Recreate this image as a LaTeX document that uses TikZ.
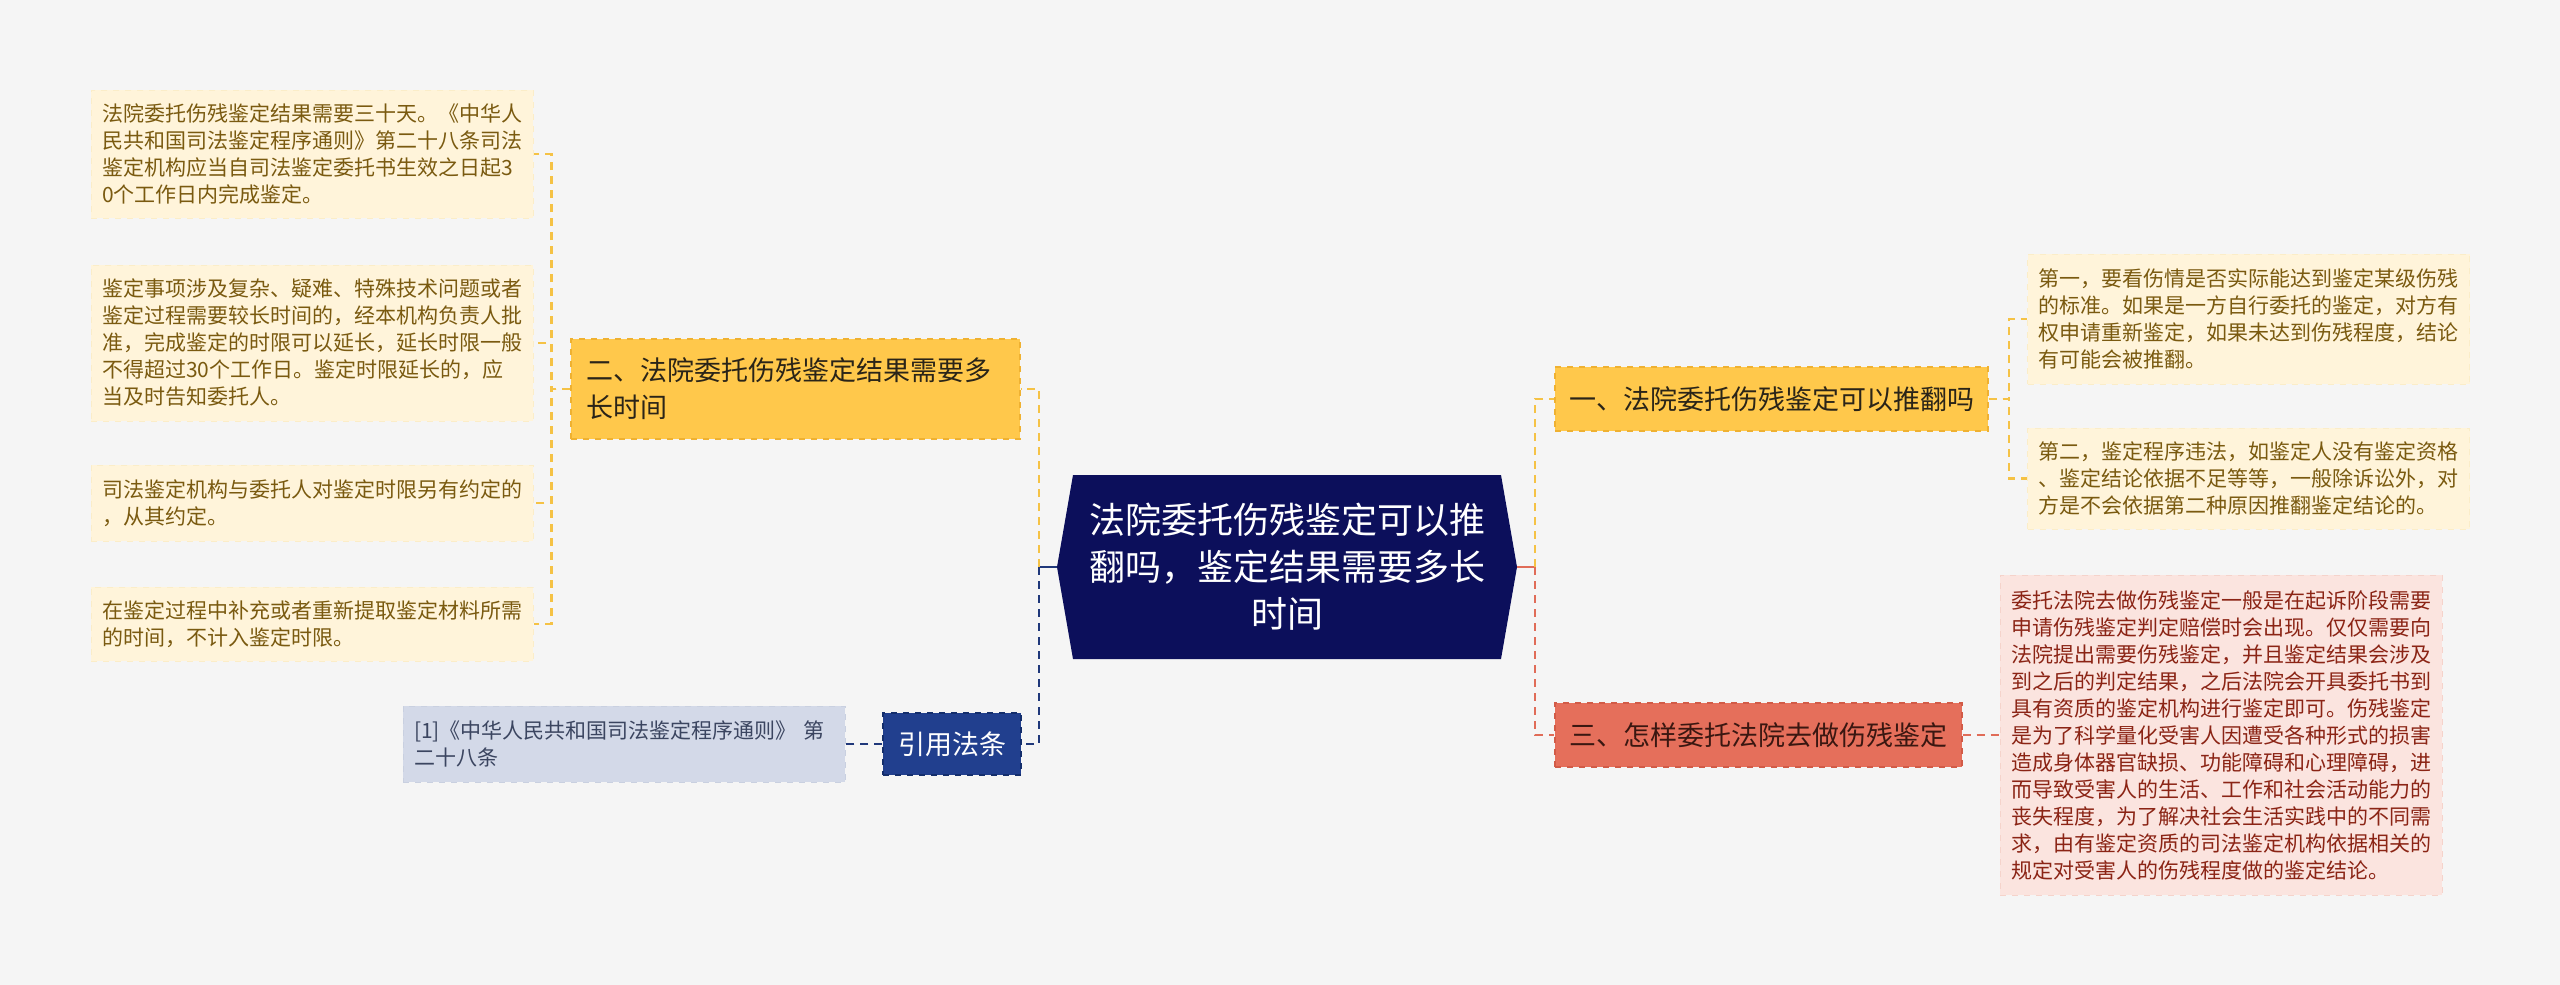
\documentclass[tikz,border=0pt]{standalone}
\usepackage{fontspec}
\setmainfont{Noto Sans CJK SC}
\usepackage{xcolor}
\usepackage{tikz}

\definecolor{bgcol}{HTML}{F5F5F5}
\definecolor{rootcol}{HTML}{0C0F5B}
\definecolor{ybranchfill}{HTML}{FFC84B}
\definecolor{ybranchline}{HTML}{EFB131}
\definecolor{branchtext}{HTML}{2A2418}
\definecolor{yleaffill}{HTML}{FFF4DA}
\definecolor{yleafline}{HTML}{FBEDC8}
\definecolor{yleaftext}{HTML}{7A5A10}
\definecolor{ylinecol}{HTML}{F5C245}
\definecolor{rbranchfill}{HTML}{E56F5B}
\definecolor{rbranchline}{HTML}{D25B47}
\definecolor{rbranchtext}{HTML}{3A1711}
\definecolor{rleaffill}{HTML}{FBE4DF}
\definecolor{rleafline}{HTML}{F5D3CB}
\definecolor{rleaftext}{HTML}{8B2415}
\definecolor{rlinecol}{HTML}{E06C58}
\definecolor{citefill}{HTML}{213F8E}
\definecolor{citeline}{HTML}{142E6C}
\definecolor{reffill}{HTML}{D3D9E8}
\definecolor{refline}{HTML}{C9D0E0}
\definecolor{reftext}{HTML}{3B4560}
\definecolor{nlinecol}{HTML}{20387A}

\begin{document}
\begin{tikzpicture}[x=0.5pt, y=-0.5pt,
    rootbox/.style={fill=bgcol, inner sep=0pt, minimum width=230pt, minimum height=92pt,
        text=white, align=center, font=\fontsize{18pt}{23.5pt}\selectfont,
        path picture={\fill[rootcol] (path picture bounding box.west)
            -- ([xshift=8pt]path picture bounding box.north west)
            -- ([xshift=-8pt]path picture bounding box.north east)
            -- (path picture bounding box.east)
            -- ([xshift=-8pt]path picture bounding box.south east)
            -- ([xshift=8pt]path picture bounding box.south west) -- cycle;}},
    ybranch/.style={fill=ybranchfill, draw=ybranchline, dashed, line width=0.6pt, inner sep=0pt,
        text=branchtext, font=\fontsize{13.5pt}{18.5pt}\selectfont},
    rbranch/.style={fill=rbranchfill, draw=rbranchline, dashed, line width=0.6pt, inner sep=0pt,
        text=rbranchtext, font=\fontsize{13.5pt}{18.5pt}\selectfont},
    citebox/.style={fill=citefill, draw=citeline, dashed, line width=0.6pt, inner sep=0pt,
        text=white, font=\fontsize{13.5pt}{18.5pt}\selectfont},
    leafbox/.style={dashed, line width=0.5pt, inner xsep=5.5pt, inner ysep=0pt, text width=210pt,
        align=left, font=\fontsize{10.5pt}{13.5pt}\selectfont},
    yleaf/.style={leafbox, fill=yleaffill, draw=yleafline, text=yleaftext},
    rleaf/.style={leafbox, fill=rleaffill, draw=rleafline, text=rleaftext},
    refleaf/.style={leafbox, fill=reffill, draw=refline, text=reftext},
    yline/.style={draw=ylinecol, dash pattern=on 4pt off 3pt, line width=1.1pt},
    rline/.style={draw=rlinecol, dash pattern=on 4pt off 3pt, line width=1.1pt},
    nline/.style={draw=nlinecol, dash pattern=on 4pt off 3pt, line width=1.1pt}]

    % page
    \fill[bgcol] (0,0) rectangle (2560,985);
    \useasboundingbox (0,0) rectangle (2560,985);

    % central topic
    \node[rootbox] (root) at (1287,567) {法院委托伤残鉴定可以推\\翻吗，鉴定结果需要多长\\时间};

    % left: how long it takes
    \node[ybranch, minimum width=224.5pt, minimum height=50pt, text width=209.5pt, align=left,
        inner xsep=7.5pt] (dur) at (795.5,389) {二、法院委托伤残鉴定结果需要多\\长时间};

    \node[yleaf, minimum height=64pt] (dur1) at (312,154) {
        法院委托伤残鉴定结果需要三十天。《中华人\\
        民共和国司法鉴定程序通则》第二十八条司法\\
        鉴定机构应当自司法鉴定委托书生效之日起3\\
        0个工作日内完成鉴定。
    };
    \node[yleaf, minimum height=78pt] (dur2) at (312,343) {
        鉴定事项涉及复杂、疑难、特殊技术问题或者\\
        鉴定过程需要较长时间的，经本机构负责人批\\
        准，完成鉴定的时限可以延长，延长时限一般\\
        不得超过30个工作日。鉴定时限延长的，应\\
        当及时告知委托人。
    };
    \node[yleaf, minimum height=38pt] (dur3) at (312,503) {
        司法鉴定机构与委托人对鉴定时限另有约定的\\
        ，从其约定。
    };
    \node[yleaf, minimum height=37pt] (dur4) at (312,624) {
        在鉴定过程中补充或者重新提取鉴定材料所需\\
        的时间，不计入鉴定时限。
    };

    % left: cited law
    \node[citebox, minimum width=69pt, minimum height=31pt] (cite) at (952,744) {引用法条};
    \node[refleaf, minimum height=38pt] (law) at (624,744) {
        [1]《中华人民共和国司法鉴定程序通则》~第\\
        二十八条
    };

    % right: can it be overturned
    \node[ybranch, minimum width=216.5pt, minimum height=32pt] (overturn) at (1771.5,399) {一、法院委托伤残鉴定可以推翻吗};

    \node[yleaf, minimum height=65pt] (over1) at (2248.5,319) {
        第一，要看伤情是否实际能达到鉴定某级伤残\\
        的标准。如果是一方自行委托的鉴定，对方有\\
        权申请重新鉴定，如果未达到伤残程度，结论\\
        有可能会被推翻。
    };
    \node[yleaf, minimum height=50.5pt] (over2) at (2248.5,478.5) {
        第二，鉴定程序违法，如鉴定人没有鉴定资格\\
        、鉴定结论依据不足等等，一般除诉讼外，对\\
        方是不会依据第二种原因推翻鉴定结论的。
    };

    % right: how to entrust the court
    \node[rbranch, minimum width=203.5pt, minimum height=32pt] (howto) at (1758.5,735) {三、怎样委托法院去做伤残鉴定};

    \node[rleaf, minimum height=160pt] (howto1) at (2221,735) {
        委托法院去做伤残鉴定一般是在起诉阶段需要\\
        申请伤残鉴定判定赔偿时会出现。仅仅需要向\\
        法院提出需要伤残鉴定，并且鉴定结果会涉及\\
        到之后的判定结果，之后法院会开具委托书到\\
        具有资质的鉴定机构进行鉴定即可。伤残鉴定\\
        是为了科学量化受害人因遭受各种形式的损害\\
        造成身体器官缺损、功能障碍和心理障碍，进\\
        而导致受害人的生活、工作和社会活动能力的\\
        丧失程度，为了解决社会生活实践中的不同需\\
        求，由有鉴定资质的司法鉴定机构依据相关的\\
        规定对受害人的伤残程度做的鉴定结论。
    };

    % connectors, left side
    \coordinate (lspine) at (1039,567);
    \draw[nlinecol, line width=1.1pt] (root.west) -- (lspine);
    \draw[yline] (lspine) |- (dur.east);
    \draw[nline] (lspine) |- (cite.east);
    \draw[nline] (cite.west) -- (law.east);
    \foreach \leaf in {dur1,dur2,dur3,dur4}
        \draw[yline] (dur.west) -- ++(-19,0) |- (\leaf.east);

    % connectors, right side
    \coordinate (rspine) at (1535,567);
    \draw[rlinecol, line width=1.1pt] (root.east) -- (rspine);
    \draw[yline] (rspine) |- (overturn.west);
    \draw[rline] (rspine) |- (howto.west);
    \foreach \leaf in {over1,over2}
        \draw[yline] (overturn.east) -- ++(20,0) |- (\leaf.west);
    \draw[rline] (howto.east) -- (howto1.west);

\end{tikzpicture}
\end{document}
